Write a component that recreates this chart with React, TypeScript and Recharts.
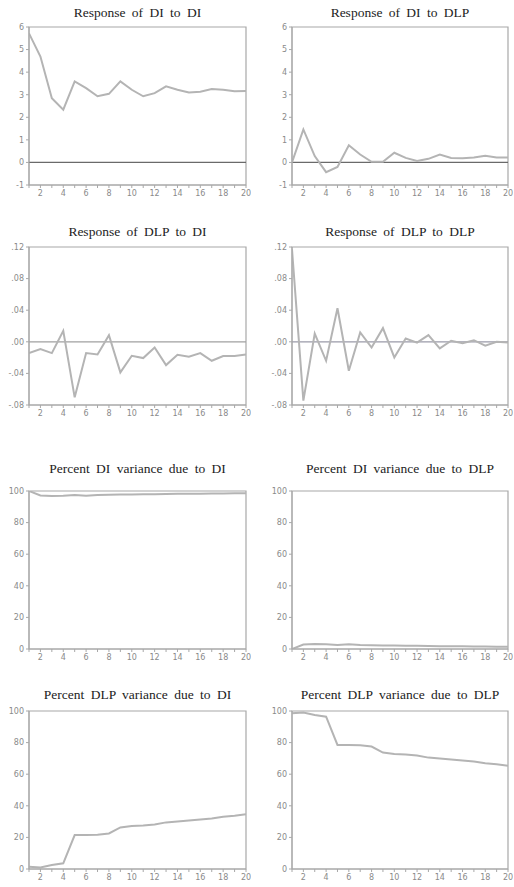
import React from 'react';
import { LineChart, Line, XAxis, YAxis, ReferenceLine, ReferenceArea } from 'recharts';

const HORIZONS = [1, 2, 3, 4, 5, 6, 7, 8, 9, 10, 11, 12, 13, 14, 15, 16, 17, 18, 19, 20];

const RESP_DI_DI = [5.72, 4.69, 2.84, 2.34, 3.59, 3.29, 2.93, 3.04, 3.59, 3.22, 2.93, 3.07, 3.37, 3.22, 3.1, 3.13, 3.25, 3.22, 3.15, 3.16];
const RESP_DI_DLP = [0.0, 1.46, 0.28, -0.43, -0.2, 0.76, 0.35, 0.03, 0.03, 0.43, 0.2, 0.06, 0.16, 0.35, 0.2, 0.18, 0.22, 0.3, 0.22, 0.22];
const RESP_DLP_DI = [-0.0143, -0.0093, -0.0143, 0.0139, -0.0703, -0.0143, -0.016, 0.0084, -0.0387, -0.0177, -0.0206, -0.0072, -0.0295, -0.0164, -0.019, -0.0143, -0.024, -0.018, -0.018, -0.016];
const RESP_DLP_DLP = [0.117, -0.0745, 0.0105, -0.024, 0.0425, -0.0366, 0.0118, -0.0072, 0.0173, -0.0198, 0.0042, -0.001, 0.0084, -0.0084, 0.0013, -0.0017, 0.002, -0.005, 0.0, -0.001];
const VAR_DI_DI = [100, 97.2, 96.8, 97.0, 97.5, 97.0, 97.5, 97.6, 97.8, 97.8, 97.9, 98.0, 98.1, 98.2, 98.3, 98.3, 98.4, 98.4, 98.5, 98.5];
const VAR_DI_DLP = [0, 2.8, 3.2, 3.0, 2.5, 3.0, 2.5, 2.4, 2.2, 2.2, 2.1, 2.0, 1.9, 1.8, 1.7, 1.7, 1.6, 1.6, 1.5, 1.5];
const VAR_DLP_DI = [1.5, 1.0, 2.5, 3.6, 21.5, 21.5, 21.7, 22.5, 26.3, 27.2, 27.6, 28.2, 29.5, 30.1, 30.7, 31.4, 32.0, 33.0, 33.7, 34.7];
const VAR_DLP_DLP = [98.5, 99.0, 97.5, 96.4, 78.5, 78.5, 78.3, 77.5, 73.7, 72.8, 72.4, 71.8, 70.5, 69.9, 69.3, 68.6, 68.0, 67.0, 66.3, 65.3];

const TICKS_RESP_DI = [-1, 0, 1, 2, 3, 4, 5, 6];
const LABELS_RESP_DI = ['-1', '0', '1', '2', '3', '4', '5', '6'];
const TICKS_RESP_DLP = [-0.08, -0.04, 0, 0.04, 0.08, 0.12];
const LABELS_RESP_DLP = ['-.08', '-.04', '.00', '.04', '.08', '.12'];
const TICKS_PCT = [0, 20, 40, 60, 80, 100];
const LABELS_PCT = ['0', '20', '40', '60', '80', '100'];

const TITLES = [
  'Response of DI to DI',
  'Response of DI to DLP',
  'Response of DLP to DI',
  'Response of DLP to DLP',
  'Percent DI variance due to DI',
  'Percent DI variance due to DLP',
  'Percent DLP variance due to DI',
  'Percent DLP variance due to DLP',
];

const FRAME = '#a8a8a8';
const LINE = '#b4b4b4';
const TICK_TXT = '#8a8a8a';

type PanelProps = {
  title: string;
  values: number[];
  ticks: number[];
  labels: string[];
  zero: boolean;
  zeroColor: string;
  col: number;
  frameTop: number;
  titleY: number;
};

const Panel = ({ title, values, ticks, labels, zero, zeroColor, col, frameTop, titleY }: PanelProps) => {
  const data = HORIZONS.map((h, i) => ({ h, v: values[i] }));
  const yAxisW = col === 0 ? 29 : 35;
  const chartLeft = col === 0 ? 0 : 257;
  const plotW = col === 0 ? 217 : 216;
  const plotH = 158;
  const mTop = 5;
  const mRight = 5;
  const xAxisH = 20;
  const width = yAxisW + plotW + mRight;
  const height = mTop + plotH + xAxisH;
  const lo = ticks[0];
  const hi = ticks[ticks.length - 1];
  const plotLeft = chartLeft + yAxisW;
  return (
    <>
      <div
        style={{
          position: 'absolute',
          left: plotLeft - 20,
          width: plotW + 40,
          top: titleY - 9,
          height: 18,
          lineHeight: '18px',
          textAlign: 'center',
          fontFamily: '"Liberation Serif", "Times New Roman", serif',
          fontSize: 13.5,
          wordSpacing: 3,
          color: '#222',
          whiteSpace: 'nowrap',
        }}
      >
        {title}
      </div>
      <div style={{ position: 'absolute', left: chartLeft, top: frameTop - mTop }}>
        <LineChart width={width} height={height} data={data} margin={{ top: mTop, right: mRight, bottom: 0, left: 0 }}>
          <XAxis
            dataKey="h"
            type="number"
            domain={[1, 20]}
            ticks={HORIZONS}
            interval={0}
            tickFormatter={(v: number) => (v % 2 === 0 ? String(v) : '')}
            height={xAxisH}
            axisLine={{ stroke: FRAME }}
            tickLine={{ stroke: FRAME }}
            tickSize={3}
            tick={{ fontSize: 8, fill: TICK_TXT, fontFamily: '"DejaVu Sans", sans-serif' }}
            allowDataOverflow
          />
          <YAxis
            type="number"
            domain={[lo, hi]}
            ticks={ticks}
            interval={0}
            tickFormatter={(v: number) => {
              const idx = ticks.findIndex((t) => Math.abs(t - v) < 1e-9);
              return idx >= 0 ? labels[idx] : '';
            }}
            width={yAxisW}
            axisLine={{ stroke: FRAME }}
            tickLine={{ stroke: FRAME }}
            tickSize={3}
            tick={{ fontSize: 8, fill: TICK_TXT, fontFamily: '"DejaVu Sans", sans-serif' }}
            allowDataOverflow
          />
          <ReferenceArea x1={1} x2={20} y1={lo} y2={hi} fill="none" stroke={FRAME} strokeWidth={1.2} ifOverflow="visible" />
          {zero && <ReferenceLine y={0} stroke={zeroColor} strokeWidth={1.2} />}
          <Line
            type="linear"
            dataKey="v"
            stroke={LINE}
            strokeWidth={2}
            dot={false}
            isAnimationActive={false}
          />
        </LineChart>
      </div>
    </>
  );
};

export default function App() {
  return (
    <div style={{ position: 'absolute', left: 0, top: 0, width: 514, height: 887, background: '#fff' }}>
      <Panel title={TITLES[0]} values={RESP_DI_DI} ticks={TICKS_RESP_DI} labels={LABELS_RESP_DI} zero zeroColor="#6a6a6a" col={0} frameTop={27} titleY={13} />
      <Panel title={TITLES[1]} values={RESP_DI_DLP} ticks={TICKS_RESP_DI} labels={LABELS_RESP_DI} zero zeroColor="#6a6a6a" col={1} frameTop={27} titleY={13} />
      <Panel title={TITLES[2]} values={RESP_DLP_DI} ticks={TICKS_RESP_DLP} labels={LABELS_RESP_DLP} zero zeroColor="#a0a0a0" col={0} frameTop={247} titleY={232} />
      <Panel title={TITLES[3]} values={RESP_DLP_DLP} ticks={TICKS_RESP_DLP} labels={LABELS_RESP_DLP} zero zeroColor="#9a9aa8" col={1} frameTop={247} titleY={232} />
      <Panel title={TITLES[4]} values={VAR_DI_DI} ticks={TICKS_PCT} labels={LABELS_PCT} zero={false} zeroColor="#999" col={0} frameTop={491} titleY={469} />
      <Panel title={TITLES[5]} values={VAR_DI_DLP} ticks={TICKS_PCT} labels={LABELS_PCT} zero={false} zeroColor="#999" col={1} frameTop={491} titleY={469} />
      <Panel title={TITLES[6]} values={VAR_DLP_DI} ticks={TICKS_PCT} labels={LABELS_PCT} zero={false} zeroColor="#999" col={0} frameTop={711} titleY={695} />
      <Panel title={TITLES[7]} values={VAR_DLP_DLP} ticks={TICKS_PCT} labels={LABELS_PCT} zero={false} zeroColor="#999" col={1} frameTop={711} titleY={695} />
    </div>
  );
}
